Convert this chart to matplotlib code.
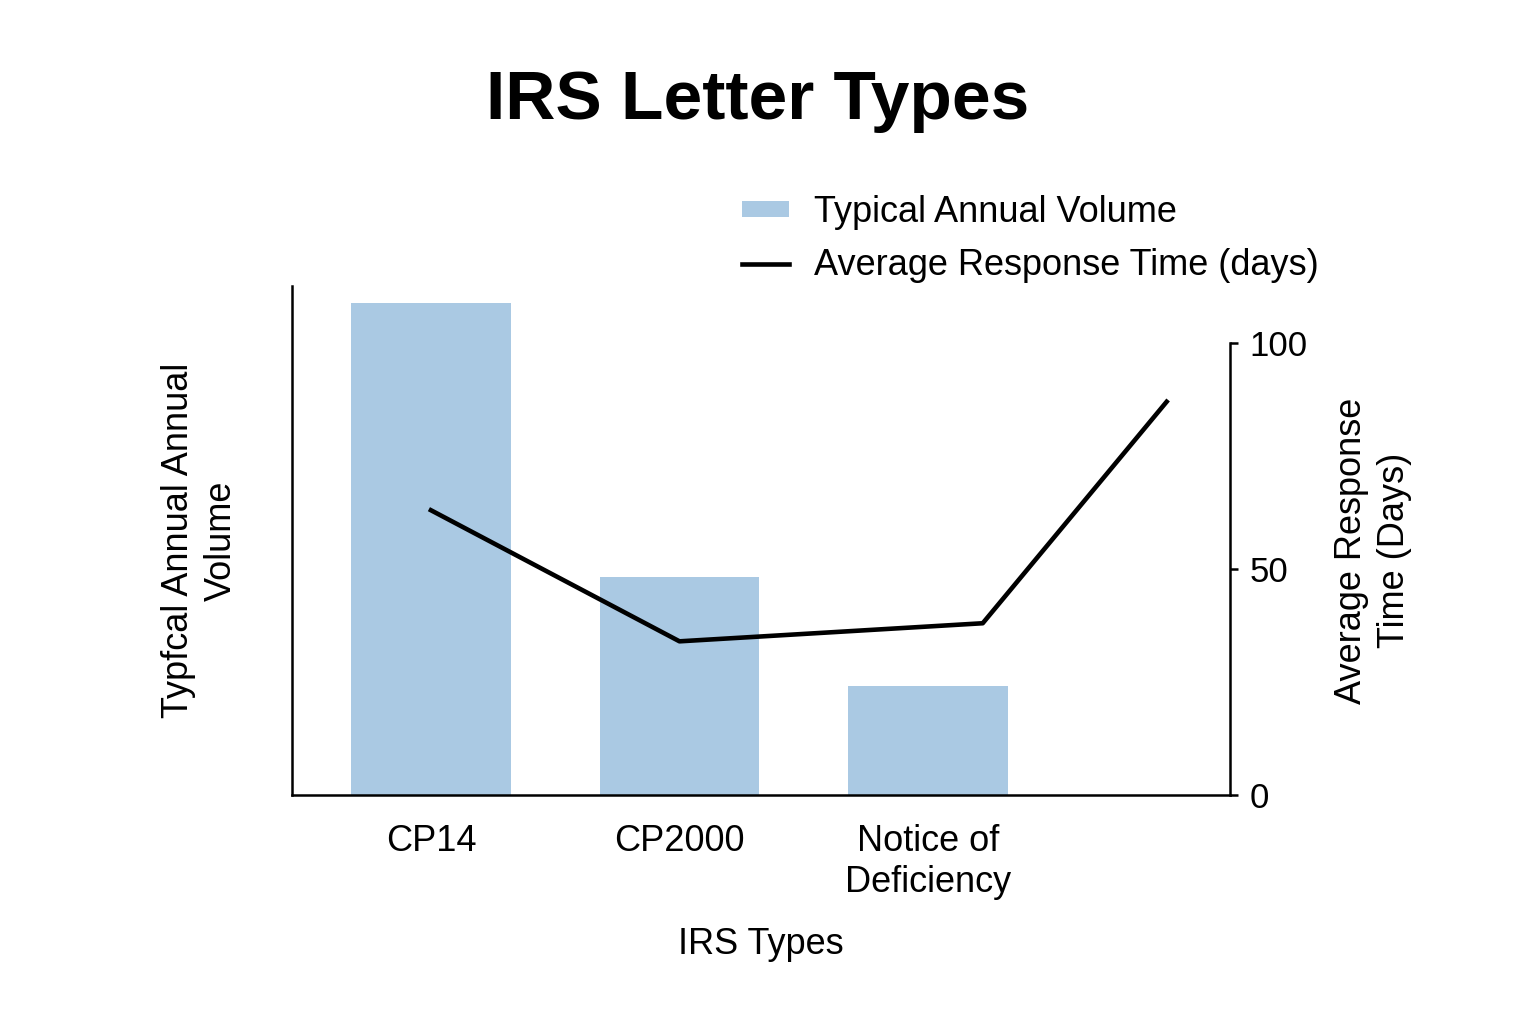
import numpy as np
import matplotlib.pyplot as plt

plt.rcParams['font.family'] = ['Liberation Sans', 'DejaVu Sans']

# data
letters = ['CP14', 'CP2000', 'Notice of\nDeficiency']
volume = [4_500_000, 2_000_000, 1_000_000]
line_x = [0, 1, 2.22, 2.96]
response_days = [63, 34, 38, 87]

bar_color = '#aac9e3'

fig = plt.figure(figsize=(15.36, 10.24), dpi=100)
ax = fig.add_axes([0.1901, 0.2236, 0.6107, 0.4971])
ax2 = ax.twinx()

x = np.arange(len(letters))
bars = ax.bar(x, volume, width=0.643, color=bar_color, label='Typical Annual Volume')
line, = ax2.plot(line_x, response_days, color='black', lw=3.3,
                 label='Average Response Time (days)')

ax.set_xlim(-0.559, 3.215)
ax.set_ylim(0, 4_660_000)
ax2.set_ylim(0, 112.6)

# left axis: spine only
ax.set_yticks([])
ax.set_xticks(x)
ax.set_xticklabels(letters, fontsize=26, linespacing=1.2)
ax.tick_params(axis='x', length=0, pad=21)
for s in ['top', 'right']:
    ax.spines[s].set_visible(False)
for s in ['left', 'bottom']:
    ax.spines[s].set_linewidth(1.8)

# right axis
for s in ['top', 'left', 'bottom']:
    ax2.spines[s].set_visible(False)
ax2.spines['right'].set_linewidth(1.8)
ax2.spines['right'].set_bounds(0, 100)
ax2.set_yticks([0, 50, 100])
ax2.tick_params(axis='y', labelsize=25, length=6, width=1.8, pad=8)

ax.set_ylabel('Typfcal Annual Annual\nVolume', fontsize=26, labelpad=38,
              linespacing=1.3)
ax2.set_ylabel('Average Response\nTime (Days)', fontsize=26, linespacing=1.3)
ax2.yaxis.set_label_coords(1.111, 0.48)
ax.set_xlabel('IRS Types', fontsize=26, labelpad=20)

fig.suptitle('IRS Letter Types', fontsize=50, fontweight='bold',
             x=0.493, y=0.933)

fig.legend(handles=[bars, line], loc='upper left',
           bbox_to_anchor=(0.483, 0.81), frameon=False, fontsize=26,
           handlelength=1.3, handleheight=0.3, handletextpad=0.7,
           labelspacing=0.5, borderpad=0, borderaxespad=0)

fig.savefig('out.png', dpi=100)
